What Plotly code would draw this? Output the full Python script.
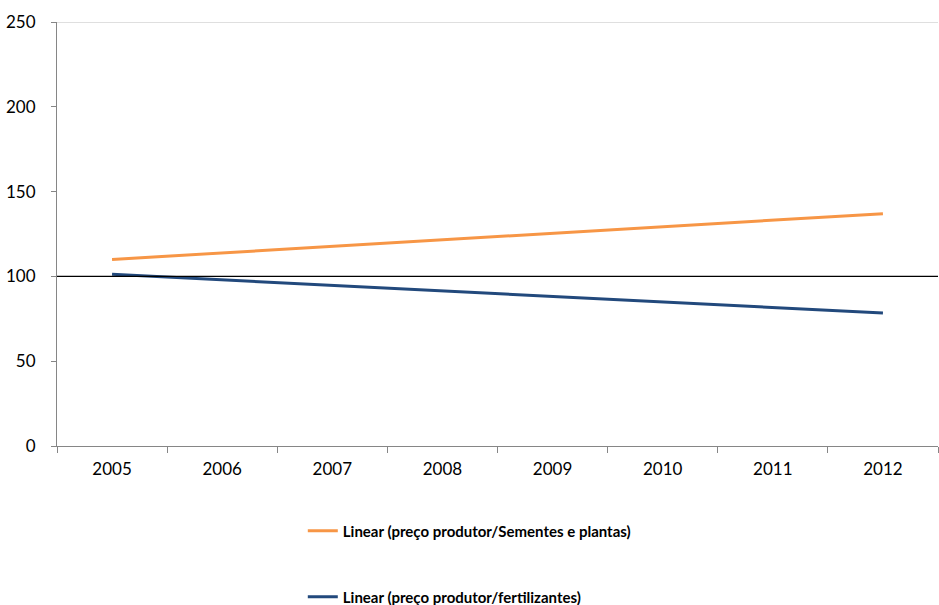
import plotly.graph_objects as go

# Linear trends of producer prices (index, 2005 base)
years = ["2005", "2006", "2007", "2008", "2009", "2010", "2011", "2012"]
sementes_trend = [110.0, 113.9, 117.7, 121.6, 125.4, 129.3, 133.1, 137.0]
fertilizantes_trend = [101.2, 97.9, 94.7, 91.4, 88.2, 84.9, 81.7, 78.4]
y_ticks = [0, 50, 100, 150, 200, 250]
base_level = 100

ORANGE = "#F79646"
BLUE = "#22497C"
AXIS = "#868686"
FONT = "Lato, 'Open Sans', sans-serif"

fig = go.Figure()
fig.add_trace(go.Scatter(
    x=years, y=sementes_trend, mode="lines",
    name="Linear (preço produtor/Sementes e plantas)",
    line=dict(color=ORANGE, width=3), legend="legend", showlegend=True,
))
fig.add_trace(go.Scatter(
    x=years, y=fertilizantes_trend, mode="lines",
    name="Linear (preço produtor/fertilizantes)",
    line=dict(color=BLUE, width=3), legend="legend2", showlegend=True,
))

# Reference level at 100 and light rule at the top of the scale
fig.add_shape(type="line", xref="paper", x0=0, x1=1, yref="y",
              y0=base_level, y1=base_level, line=dict(color="#000000", width=1.3))
fig.add_shape(type="line", xref="paper", x0=0, x1=1, yref="y",
              y0=y_ticks[-1], y1=y_ticks[-1], line=dict(color="#C0C0C0", width=1))

legend_font = dict(family=FONT, size=15, color="#000000", weight="bold")
fig.update_layout(
    width=939, height=605,
    margin=dict(l=57, r=1, t=22, b=159, autoexpand=False),
    paper_bgcolor="white", plot_bgcolor="white",
    showlegend=True,
    font=dict(family=FONT, color="#000000", size=17),
    legend=dict(x=0.279, y=-0.2005, xanchor="left", yanchor="middle",
                font=legend_font, bgcolor="rgba(0,0,0,0)", visible=True),
    legend2=dict(x=0.279, y=-0.356, xanchor="left", yanchor="middle",
                 font=legend_font, bgcolor="rgba(0,0,0,0)", visible=True),
)
fig.update_xaxes(
    type="category", categoryorder="array", categoryarray=years,
    range=[-0.5, len(years) - 0.5],
    showline=True, linecolor=AXIS, linewidth=1,
    ticks="outside", tickson="boundaries", ticklen=6, tickcolor=AXIS,
    showgrid=False, zeroline=False,
    tickfont=dict(size=17, family=FONT), ticklabelstandoff=8,
)
fig.update_yaxes(
    range=[0, 250], tickvals=y_ticks,
    showline=True, linecolor=AXIS, linewidth=1,
    ticks="outside", ticklen=5, tickcolor=AXIS,
    showgrid=False, zeroline=False,
    tickfont=dict(size=17, family=FONT), ticklabelstandoff=12,
)

fig.write_html("out.html")
